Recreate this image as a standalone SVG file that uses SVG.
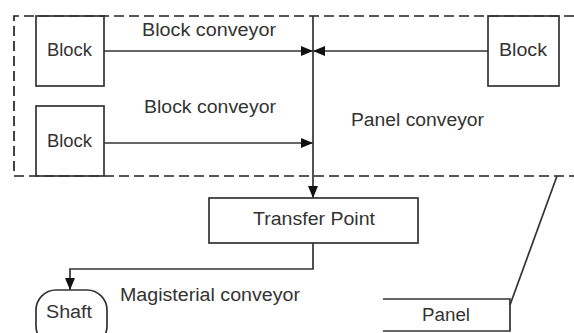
<svg xmlns="http://www.w3.org/2000/svg" width="574" height="333" viewBox="0 0 574 333">
<style>
.box{fill:none;stroke:#333;stroke-width:1.7}
.ln{fill:none;stroke:#333;stroke-width:1.7}
.dash{fill:none;stroke:#222;stroke-width:1.7;stroke-dasharray:10,5}
text{font-family:"Liberation Sans",Arial,sans-serif;font-size:18px;fill:#333}
</style>
<defs>
<marker id="ah" viewBox="0 0 12 10" refX="12" refY="5" markerWidth="12" markerHeight="10" markerUnits="userSpaceOnUse" orient="auto">
<path d="M0,0 L12,5 L0,10 z" fill="#111"/>
</marker>
</defs>
<rect width="574" height="333" fill="#fff"/>
<g id="panel-conveyor-area">
<path class="dash" d="M574,16 H14 V176 H574"/>
<text x="351" y="126" textLength="133" lengthAdjust="spacingAndGlyphs">Panel conveyor</text>
</g>
<g id="connectors">
<path class="ln" d="M104,51 H313" marker-end="url(#ah)"/>
<path class="ln" d="M488,51 H313" marker-end="url(#ah)"/>
<path class="ln" d="M104,143 H313" marker-end="url(#ah)"/>
<path class="ln" d="M313,16 V198" marker-end="url(#ah)"/>
<path class="ln" d="M313,243 V269 H70 V290" marker-end="url(#ah)"/>
<path class="ln" d="M510,305 L557,176"/>
<text x="142" y="36" textLength="134" lengthAdjust="spacingAndGlyphs">Block conveyor</text>
<text x="144" y="113" textLength="132" lengthAdjust="spacingAndGlyphs">Block conveyor</text>
<text x="120" y="301" textLength="180" lengthAdjust="spacingAndGlyphs">Magisterial conveyor</text>
</g>
<g id="block1">
<rect class="box" x="36" y="16" width="68" height="70"/>
<text x="47" y="56" textLength="45" lengthAdjust="spacingAndGlyphs">Block</text>
</g>
<g id="block2">
<rect class="box" x="36" y="106" width="68" height="70"/>
<text x="47" y="147" textLength="45" lengthAdjust="spacingAndGlyphs">Block</text>
</g>
<g id="block3">
<rect class="box" x="488" y="16" width="71" height="70"/>
<text x="499" y="56" textLength="48" lengthAdjust="spacingAndGlyphs">Block</text>
</g>
<g id="transfer-point">
<rect class="box" x="209" y="198" width="209" height="45"/>
<text x="253" y="225" textLength="122" lengthAdjust="spacingAndGlyphs">Transfer Point</text>
</g>
<g id="shaft">
<rect class="box" x="36" y="290" width="71" height="56" rx="20" ry="20"/>
<text x="46" y="318" textLength="46" lengthAdjust="spacingAndGlyphs">Shaft</text>
</g>
<g id="panel">
<path class="box" d="M383,299 H510 V331 H383"/>
<text x="422" y="321" textLength="48" lengthAdjust="spacingAndGlyphs">Panel</text>
</g>
</svg>
